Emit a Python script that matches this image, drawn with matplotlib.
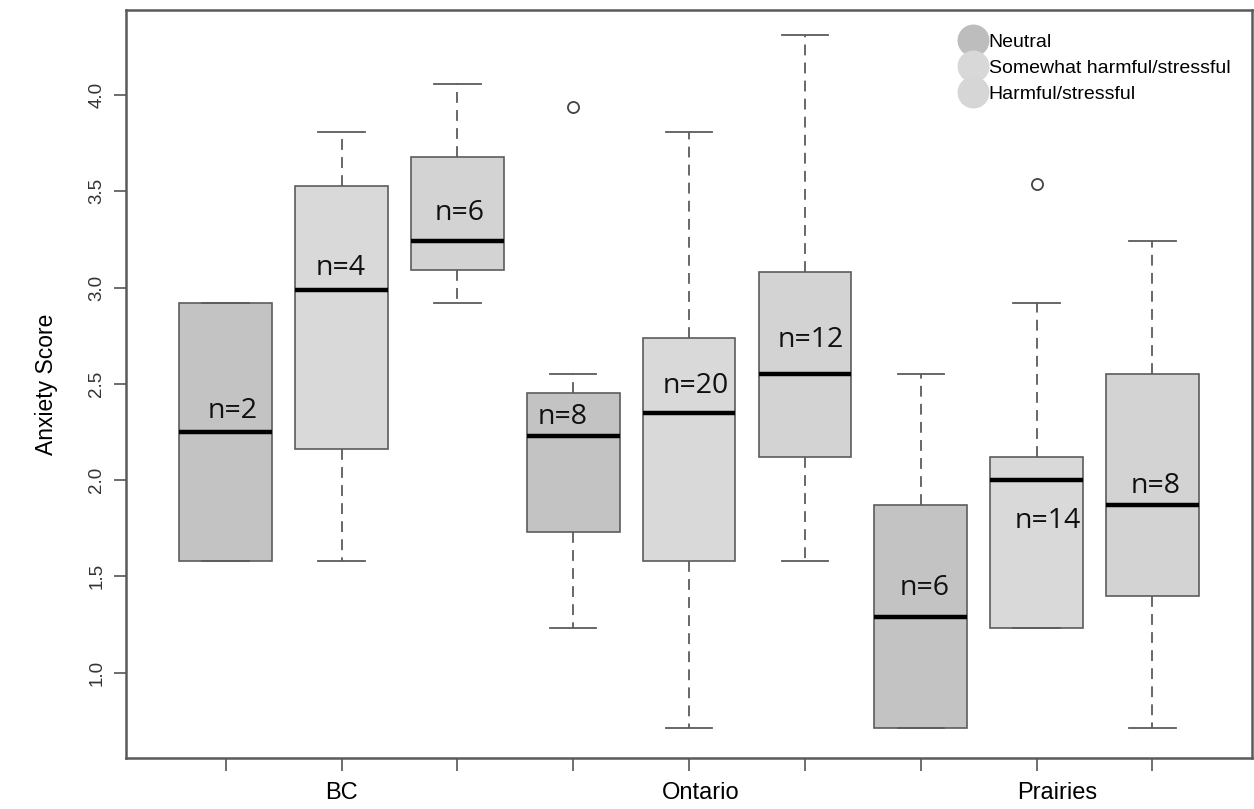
import numpy as np
import matplotlib.pyplot as plt
from matplotlib.lines import Line2D

# box statistics (BC, Ontario, Prairies x 3 groups)
whislo = [1.58, 1.58, 2.92, 1.23, 0.71, 1.58, 0.71, 1.23, 0.71]
q1     = [1.58, 2.16, 3.09, 1.73, 1.58, 2.12, 0.71, 1.23, 1.40]
med    = [2.25, 2.99, 3.24, 2.23, 2.35, 2.55, 1.29, 2.00, 1.87]
q3     = [2.92, 3.53, 3.68, 2.45, 2.74, 3.08, 1.87, 2.12, 2.55]
whishi = [2.92, 3.81, 4.06, 2.55, 3.81, 4.31, 2.55, 2.92, 3.24]
fliers = [[], [], [], [3.94], [], [], [], [3.54], []]
counts = [2, 4, 6, 8, 20, 12, 6, 14, 8]
groups = ['Neutral', 'Somewhat harmful/stressful', 'Harmful/stressful']
regions = ['BC', 'Ontario', 'Prairies']
yticks = [1.0, 1.5, 2.0, 2.5, 3.0, 3.5, 4.0]

fills = ['#c3c3c3', '#d9d9d9', '#d3d3d3']
legend_cols = ['#bdbdbd', '#d8d8d8', '#d6d6d6']
edge = '#5c5c5c'

# where the n= labels sit (x position, y value)
label_xy = [(1.06, 2.36), (1.99, 3.10), (3.02, 3.39), (3.91, 2.33), (5.06, 2.49),
            (6.05, 2.73), (7.03, 1.44), (8.10, 1.79), (9.03, 1.97)]
region_x = [2.0, 5.1, 8.18]

stats = []
for i in range(9):
    stats.append(dict(whislo=whislo[i], q1=q1[i], med=med[i], q3=q3[i],
                      whishi=whishi[i], fliers=fliers[i]))

fig = plt.figure(figsize=(12.54, 8.09), dpi=100)
ax = fig.add_axes([0.1005, 0.063, 0.898, 0.925])

pos = np.arange(1, 10)
bp = ax.bxp(stats, positions=pos, widths=0.8, patch_artist=True, showfliers=True,
            boxprops=dict(edgecolor=edge, linewidth=1.2),
            medianprops=dict(color='black', linewidth=3.2, solid_capstyle='butt'),
            whiskerprops=dict(color=edge, linewidth=1.3, linestyle=(0, (6, 4))),
            capprops=dict(color=edge, linewidth=1.3),
            flierprops=dict(marker='o', markerfacecolor='none', markeredgecolor='#444444',
                            markersize=8, markeredgewidth=1.3))
for i, b in enumerate(bp['boxes']):
    b.set_facecolor(fills[i % 3])
for c in bp['caps']:
    x0, x1 = c.get_xdata()
    m = (x0 + x1) / 2
    c.set_xdata([m - 0.2, m + 0.2])

for (x, y), n in zip(label_xy, counts):
    ax.text(x, y, 'n=%d' % n, ha='center', va='center', fontsize=20.5,
            family=['Open Sans', 'DejaVu Sans'], color='#111111')

ax.set_xlim(0.14, 9.86)
ax.set_ylim(0.556, 4.444)
ax.set_xticks(pos)
ax.set_xticklabels([])
ax.set_yticks(yticks)
ax.set_yticklabels(['%.1f' % t for t in yticks], rotation=90, va='center',
                   fontsize=13.5, color='#333333', family='Liberation Sans')
ax.tick_params(axis='both', length=9, width=1.2, color='#555555')
ax.tick_params(axis='y', pad=6)
for s in ax.spines.values():
    s.set_color('#5a5a5a')
    s.set_linewidth(1.8)

for x, r in zip(region_x, regions):
    ax.text(x, -0.047, r, transform=ax.get_xaxis_transform(), ha='center', va='center',
            fontsize=17, family=['Liberation Sans Narrow', 'Liberation Sans'])

ax.set_ylabel('Anxiety Score', fontsize=16.5, family='Liberation Sans', labelpad=22)

handles = [Line2D([], [], linestyle='none', marker='o', markersize=22,
                  markerfacecolor=c, markeredgecolor=c) for c in legend_cols]
ax.legend(handles, groups, loc='upper left', bbox_to_anchor=(0.735, 0.982),
          frameon=False, prop=dict(family='Liberation Sans', size=14),
          labelspacing=0.45, handlelength=1.0, handletextpad=0.3, borderpad=0)

fig.savefig('out.png', dpi=100)
